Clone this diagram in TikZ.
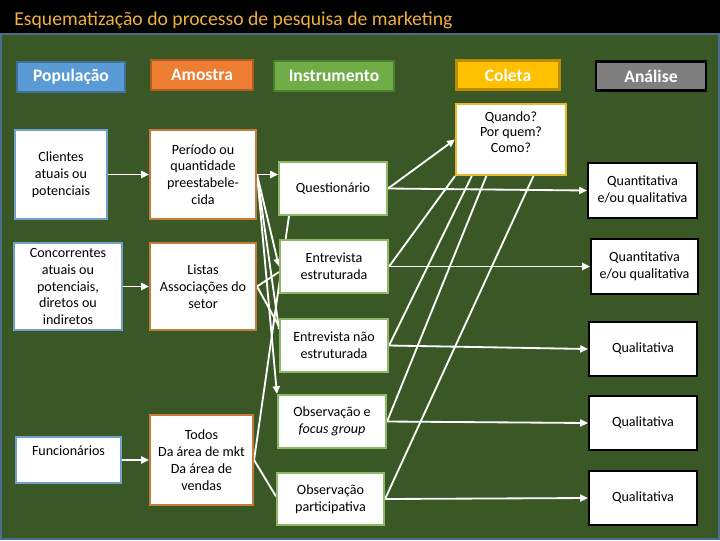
\documentclass[tikz,border=0pt]{standalone}
\usepackage{fontspec}
\setmainfont{Carlito}
\usetikzlibrary{arrows.meta,calc}
\definecolor{panelgreen}{HTML}{3A5826}
\definecolor{panelrim}{HTML}{4C6E8C}
\definecolor{titleorange}{HTML}{F0B03A}
\definecolor{popfill}{HTML}{5B9BD5}
\definecolor{popline}{HTML}{41719C}
\definecolor{popedge}{HTML}{729FC6}
\definecolor{amofill}{HTML}{ED7D31}
\definecolor{amoline}{HTML}{AE5A21}
\definecolor{amoedge}{HTML}{C47B3B}
\definecolor{insfill}{HTML}{70AD47}
\definecolor{insline}{HTML}{507E32}
\definecolor{insedge}{HTML}{8DB966}
\definecolor{colfill}{HTML}{FFC000}
\definecolor{colline}{HTML}{BC8C00}
\definecolor{coledge}{HTML}{E9B82E}
\definecolor{anafill}{HTML}{7F7F7F}
\pgfdeclarelayer{panel}
\pgfdeclarelayer{wires}
\pgfsetlayers{panel,wires,main}
\tikzset{
  sz/.style 2 args={minimum width=#1*0.025cm, minimum height=#2*0.025cm},
  head/.style={draw, line width=1.5pt, text=white, inner sep=1pt, font=\fontsize{12.5}{14}\selectfont\bfseries},
  cell/.style={draw, fill=white, line width=1.5pt, align=center, inner sep=1pt, font=\fontsize{10}{12}\selectfont},
  wire/.style={draw=white, line width=1.3pt},
  >={Triangle[length=5.5pt,width=5pt]}
}
\begin{document}
\begin{tikzpicture}[x=0.025cm, y=-0.025cm]
	\useasboundingbox (0,0) rectangle (720,540);
	\begin{pgfonlayer}{panel}
		\fill[black] (0,0) rectangle (720,34);
		\draw[panelrim, fill=panelgreen, line width=1.5pt] (1,34) rectangle (719,539);
	\end{pgfonlayer}
	\node[anchor=west, text=titleorange, font=\fontsize{14}{16}\selectfont, inner sep=0pt] (title) at (14,20) {Esquematização do processo de pesquisa de marketing};

	\node[head, sz={108}{30}, fill=popfill, draw=popline] (hpop) at (71,77) {População};
	\node[head, sz={102}{30}, fill=amofill, draw=amoline] (hamo) at (202,75) {Amostra};
	\node[head, sz={120}{30}, fill=insfill, draw=insline] (hins) at (334,76) {Instrumento};
	\node[head, sz={103}{29}, fill=colfill, draw=colline] (hcol) at (508,75) {Coleta};
	\node[head, sz={110}{29}, fill=anafill, draw=black] (hana) at (651,76) {Análise};

	\node[cell, sz={92}{89}, draw=popedge] (cli) at (61,174.5) {Clientes\\atuais ou\\potenciais};
	\node[cell, sz={108}{87}, draw=popedge] (con) at (68,286.5) {Concorrentes\\atuais ou\\potenciais,\\diretos ou\\indiretos};
	\node[cell, sz={105}{46}, draw=popedge] (fun) at (68.5,460) {Funcionários\\[2pt]};

	\node[cell, sz={106}{89}, draw=amoedge] (per) at (203,174.5) {Período ou\\quantidade\\preestabele-\\cida};
	\node[cell, sz={106}{87}, draw=amoedge] (lis) at (203,286.5) {Listas\\Associações do\\setor};
	\node[cell, sz={103}{90}, draw=amoedge] (tod) at (201.5,460) {Todos\\Da área de mkt\\Da área de\\vendas};

	\node[cell, sz={108}{53}, draw=insedge] (que) at (333,188.5) {Questionário};
	\node[cell, sz={108}{53}, draw=insedge] (ees) at (334,266.5) {Entrevista\\estruturada};
	\node[cell, sz={108}{53}, draw=insedge] (enf) at (334,345.5) {Entrevista não\\estruturada};
	\node[cell, sz={108}{53}, draw=insedge] (ofg) at (332,421.5) {Observação e\\\textit{focus group}};
	\node[cell, sz={107}{52}, draw=insedge] (opa) at (330.5,499) {Observação\\participativa};

	\node[cell, sz={110}{71}, draw=coledge, font=\fontsize{10}{11}\selectfont] (qpc) at (511,139.5) {Quando?\\Por quem?\\Como?\\\mbox{}};

	\node[cell, sz={109}{55}, draw=black] (a1) at (642.5,190.5) {Quantitativa\\e/ou qualitativa};
	\node[cell, sz={107}{55}, draw=black] (a2) at (644.5,266.5) {Quantitativa\\e/ou qualitativa};
	\node[cell, sz={108}{54}, draw=black] (a3) at (643,349) {Qualitativa};
	\node[cell, sz={108}{54}, draw=black] (a4) at (643,423) {Qualitativa};
	\node[cell, sz={108}{54}, draw=black] (a5) at (643,498) {Qualitativa};

	\begin{pgfonlayer}{wires}
		\draw[wire, ->] (cli) -- (per);
		\draw[wire, ->] (con) -- (lis);
		\draw[wire, ->] (fun) -- (tod);
		\draw[wire, ->] (per.east) -- (que.west |- per.east);
		\draw[wire, ->] (per.east) -- (ees.west);
		\draw[wire] (per.east) -- ($(enf.north west)!0.2!(enf.south west)$);
		\draw[wire, ->] (per.east) -- (ofg.north west);
		\draw[wire] (lis.east) -- ($(ees.north west)!0.6!(ees.south west)$);
		\draw[wire] (lis.east) -- ($(enf.north west)!0.15!(enf.south west)$);
		\draw[wire] (tod.east) -- ($(que.south west)!0.1!(que.south east)$);
		\draw[wire] (tod.east) -- ($(opa.north west)!0.45!(opa.south west)$);
		\draw[wire, ->] (que.east) -- (qpc.west);
		\draw[wire, ->] (que.east) -- (a1.west);
		\draw[wire, ->] (ees.east) -- (a2.west);
		\draw[wire, ->] (enf.east) -- (a3.west);
		\draw[wire, ->] (ofg.east) -- (a4.west);
		\draw[wire, ->] (opa.east) -- (a5.west);
		\draw[wire] (ees.east) -- (qpc.south west);
		\draw[wire] (enf.east) -- ($(qpc.south west)!0.15!(qpc.south east)$);
		\draw[wire] (ofg.east) -- ($(qpc.south west)!0.28!(qpc.south east)$);
		\draw[wire] (opa.east) -- ($(qpc.south west)!0.7!(qpc.south east)$);
	\end{pgfonlayer}
\end{tikzpicture}
\end{document}
